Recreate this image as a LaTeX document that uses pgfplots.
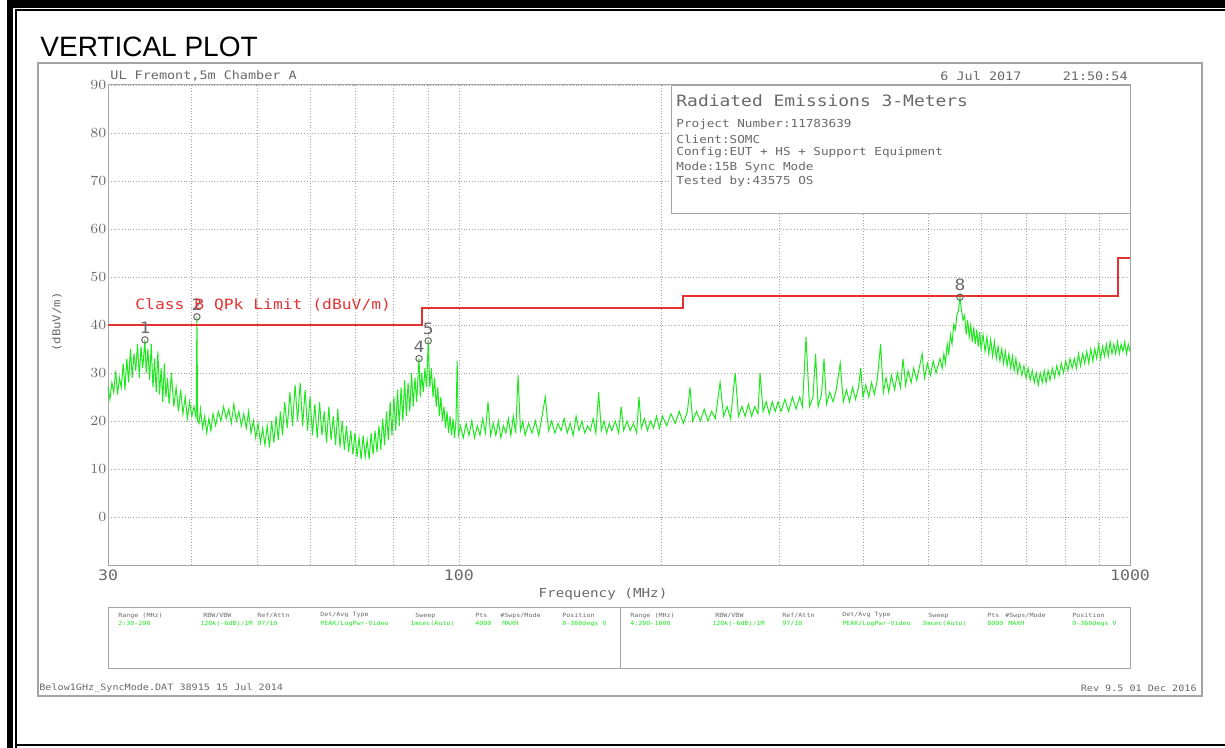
\documentclass[border=0pt]{standalone}
\usepackage{fontspec}
\setmainfont{Liberation Sans}
\newfontfamily\plotfont[FakeStretch=1.15]{DejaVu Sans Mono}
\usepackage{pgfplots}
\pgfplotsset{compat=1.18}
\definecolor{trace}{RGB}{30,232,30}
\definecolor{limit}{RGB}{228,50,50}
\definecolor{ink}{RGB}{105,105,105}
\definecolor{frame}{RGB}{165,165,165}
\newcommand\pf[1]{\plotfont\fontsize{#1}{#1}\selectfont}

\begin{document}
\begin{tikzpicture}[x=0.5pt,y=-0.5pt]
\path[use as bounding box] (0,0) rectangle (1225,748);
% page border (double rule)
\fill[black] (7,0) rectangle (1225,8);
\fill[black] (7,0) rectangle (13,748);
\draw[black, line width=1pt] (16,748) -- (16,10.5) -- (1225,10.5);
\draw[black, line width=1pt] (16,744.5) -- (1225,744.5);
\node[anchor=west, inner sep=0, font=\fontsize{14}{14}\selectfont] at (40,47) {VERTICAL PLOT};
% analyser screen frame
\draw[frame, line width=0.6pt] (38,63) rectangle (1202,696);

\begin{axis}[
    at={(54pt,-282.5pt)}, anchor=south west,
    scale only axis, width=511pt, height=240pt,
    xmode=log, xmin=30, xmax=1000, ymin=-10, ymax=90,
    xtick={30,100,1000}, xticklabels={30,100,1000},
    minor xtick={40,50,60,70,80,90,200,300,400,500,600,700,800,900},
    ytick={0,10,...,90},
    extra y ticks={-10}, extra y tick labels={},
    grid=both,
    major grid style={frame, densely dotted, line width=0.4pt},
    minor grid style={frame, densely dotted, line width=0.4pt},
    axis line style={frame, line width=0.5pt},
    major tick length=0pt, minor tick length=0pt,
    tick label style={font=\pf{7.2}, text=ink},
    yticklabel style={inner sep=0.6pt},
    xticklabel style={inner sep=0pt, yshift=-2pt},
    clip=false,
]
% measured trace, peak detector
\addplot[trace, line width=0.5pt] coordinates {
(30.0,27) (30.2,24.5) (30.4,28) (30.6,26) (30.8,30.5) (31.0,25.5) (31.2,29) (31.4,27)
(31.6,32) (31.8,26.5) (32.0,33) (32.2,28) (32.4,35) (32.6,29) (32.8,34) (33.0,30.5)
(33.2,36) (33.4,29) (33.6,35.5) (33.8,31) (34.05,36.9) (34.2,30) (34.4,35) (34.6,28.5)
(34.8,36) (35.0,27) (35.2,33) (35.4,26) (35.6,34.5) (35.8,25.5) (36.0,31) (36.2,24)
(36.4,32) (36.6,25) (36.8,29) (37.0,23.5) (37.3,30) (37.6,23) (37.9,27) (38.2,22)
(38.5,26.5) (38.8,21.5) (39.1,25) (39.4,20.5) (39.7,24) (40.0,21) (40.3,23) (40.6,20.5)
(40.7,41.7) (40.8,20) (41.0,19.5) (41.2,22.5) (41.5,18.5) (41.8,21) (42.1,17.5) (42.4,20.5)
(42.7,18) (43.0,21.5) (43.4,19) (43.8,22) (44.2,20) (44.6,23) (45.0,20.5) (45.4,22.5)
(45.8,19.5) (46.2,23.5) (46.6,20) (47.0,22) (47.4,19) (47.8,21.5) (48.2,18.5) (48.6,22)
(49.0,17.5) (49.4,20) (49.8,16.5) (50.2,19.5) (50.6,15.5) (51.0,18.5) (51.4,15) (51.8,19)
(52.2,14.5) (52.6,20) (53.0,15.5) (53.4,21) (53.8,16) (54.2,22) (54.6,17) (55.0,24)
(55.5,18.5) (56.0,26) (56.5,19) (57.0,27.5) (57.5,20) (58.0,28) (58.5,19) (59.0,26.5)
(59.5,18) (60.0,25) (60.5,17) (61.0,23.5) (61.5,16.5) (62.0,24) (62.5,17) (63.0,22)
(63.5,15.5) (64.0,23) (64.5,16) (65.0,21) (65.5,15) (66.0,22.5) (66.5,14.5) (67.0,20)
(67.5,14) (68.0,19) (68.5,13.5) (69.0,18) (69.5,13) (70.0,17.5) (70.5,12.5) (71.0,16.5)
(71.5,12) (72.0,17) (72.5,12.5) (73.0,16) (73.5,12) (74.0,17.5) (74.5,13) (75.0,18)
(75.5,13.5) (76.0,19) (76.5,14) (77.0,20.5) (77.5,15) (78.0,22) (78.5,16) (79.0,24)
(79.5,17) (80.0,25) (80.5,18) (81.0,26.5) (81.5,19) (82.0,27) (82.5,20) (83.0,28.5)
(83.5,21) (84.0,28) (84.5,22) (85.0,30) (85.5,23) (86.0,29) (86.5,24) (87.2,33)
(87.6,25) (88.0,30) (88.5,26) (89.0,31) (89.5,27) (90.0,36.7) (90.5,27) (91.0,31)
(91.5,25) (92.0,29) (92.5,23) (93.0,27) (93.5,21) (94.0,25) (94.5,20) (95.0,23)
(95.5,18.5) (96.0,22) (96.5,17.5) (97.0,21) (97.5,17) (98.0,20.5) (98.5,16.5) (99.0,20)
(99.4,32.5) (99.8,17) (100.5,19) (101.5,16.5) (102.5,19.5) (103.5,17) (104.5,20) (105.5,16.5)
(106.5,19) (107.5,17) (108.5,20.5) (109.5,17.5) (110.5,24) (111.5,17) (112.5,19.5) (113.5,17)
(114.5,20) (115.5,16.5) (116.5,19) (117.5,17.5) (118.5,20.5) (119.5,17) (120.5,21) (121.5,17.5)
(122.5,29.6) (123.5,18) (124.5,20) (125.5,17) (127,19.5) (128.5,17.5) (130,20) (131.5,17)
(133,21) (134.5,25) (136,18) (137.5,20) (139,17.5) (140.5,19.5) (142,18) (143.5,20.5)
(145,17.5) (146.5,19.5) (148,17) (149.5,21) (151,18) (152.5,20) (154,17.5) (155.5,19)
(157,18) (158.5,20.5) (160,17.5) (161.5,26) (163,18) (164.5,20) (166,17.5) (167.5,19.5)
(169,18) (171,20) (173,17.5) (174.5,23) (176,18) (178,20) (180,18) (182,19.5)
(184,17.5) (185.5,25) (187,18.5) (189,20.5) (191,18) (193,20) (195,18.5) (197,21)
(199,18.5) (201,21) (204,19) (207,21.5) (210,19.5) (213,22) (216,19.5) (219,22)
(221,27) (223,20) (226,22) (229,20) (232,22.5) (235,20) (238,22) (241,20.5)
(245,28) (248,21) (251,23) (254,20.5) (258,30) (261,21) (264,23) (267,21)
(270,23.5) (273,21) (276,23) (279,21.5) (281,30) (284,22) (287,24) (290,21.5)
(293,24) (296,22) (299,24) (302,22) (306,24.5) (310,22) (314,25) (318,22.5)
(322,25) (325,23) (329,37.5) (333,23) (337,25) (340,34) (343,23) (347,25.5)
(350,33) (353,23.5) (357,26) (361,24) (365,26.5) (370,32) (374,24) (378,26.5)
(382,24) (386,27) (390,24.5) (394,27) (397,31) (400,25) (404,27.5) (408,25)
(412,28) (416,25.5) (420,28.5) (425,36) (429,26) (433,29) (437,26) (441,29.5)
(446,26.5) (450,30) (455,27) (459,33) (463,27.5) (467,30.5) (472,28) (476,31)
(481,28.5) (486,31.5) (490,34) (494,29) (499,32) (504,29.5) (509,32.5) (514,30)
(521,33) (525,31) (528,34) (531,32) (534,36) (537,34) (540,38) (543,36)
(546,40) (549,39) (552,42) (555,43) (558,45.8) (561,43) (564,41) (567,42)
(570,38) (573,41) (576,37.5) (579,40) (582,36.5) (585,39.5) (588,36) (591,39)
(594,35.5) (597,38.5) (600,35) (604,38) (608,34.5) (612,37.5) (616,34) (620,37)
(624,33.5) (628,36.5) (632,33) (636,35.5) (640,32.5) (644,35) (648,32) (652,34.5)
(656,31.5) (660,34) (664,31) (668,33.5) (672,30.5) (676,33) (680,30) (685,32)
(690,29.5) (695,31.5) (700,29) (705,31) (710,28.5) (715,30.5) (720,28) (725,30)
(730,27.5) (735,30) (740,28) (745,30.5) (750,28) (755,30.5) (760,28.5) (766,31)
(772,29) (778,31.5) (784,29.5) (790,32) (796,30) (802,32.5) (808,30.5) (814,33)
(820,31) (826,33) (832,31) (838,34) (844,31.5) (850,34) (856,32) (862,34.5)
(868,32) (874,35) (880,32.5) (886,35) (892,33) (898,36) (904,33) (910,35.5)
(916,33.5) (922,36) (928,33.5) (934,36.5) (940,34) (946,36) (952,34) (958,36.5)
(964,34) (970,36) (976,34.5) (982,36.5) (988,34) (994,36) (1000,34.5)
};
% Class B quasi-peak limit
\addplot[limit, line width=1pt] coordinates {
(30,40) (88,40) (88,43.5) (216,43.5) (216,46) (960,46) (960,54) (1000,54)
};
% marker points
\addplot[only marks, mark=o, mark size=1.6pt, mark options={draw=ink, line width=0.5pt},
    point meta=explicit symbolic, nodes near coords,
    nodes near coords style={font=\pf{7.8}, text=ink, anchor=center, yshift=6pt}]
coordinates {(34.05,36.9)[1] (40.7,41.7)[2] (87.2,33)[4] (90,36.7)[5] (558,45.8)[8]};
\end{axis}

% header line of the screen
\node[anchor=west, inner sep=0, font=\pf{5.85}, text=ink] at (110,76) {UL Fremont,5m Chamber A};
\node[anchor=west, inner sep=0, font=\pf{5.85}, text=ink] at (940,76) {6 Jul 2017};
\node[anchor=east, inner sep=0, font=\pf{5.85}, text=ink] at (1128,76) {21:50:54};
% limit label
\node[anchor=west, inner sep=0, font=\pf{7.1}, text=limit] at (135,305) {Class B QPk Limit (dBuV/m)};
% axis titles
\node[rotate=90, inner sep=0, font=\pf{5.4}, text=ink] at (57,322) {(dBuV/m)};
\node[inner sep=0, font=\pf{6.2}, text=ink] at (603,594) {Frequency (MHz)};

% info box
\draw[frame, fill=white, line width=0.5pt] (671,86) rectangle (1130,214);
\node[anchor=west, inner sep=0, font=\pf{7.8}, text=ink] at (676,101) {Radiated Emissions 3-Meters};
\foreach \yy/\tt in {124/{Project Number:11783639}, 139/{Client:SOMC},
    153/{Config:EUT + HS + Support Equipment}, 167/{Mode:15B Sync Mode},
    181/{Tested by:43575 OS}}
  \node[anchor=west, inner sep=0, font=\pf{5.5}, text=ink] at (676,\yy) {\tt};

% sweep settings table
\draw[frame, line width=0.5pt] (108,607) rectangle (1130,668);
\draw[frame, line width=0.5pt] (620,607) -- (620,668);
\foreach \xx/\tt in {118/{Range (MHz)}, 203/{RBW/VBW}, 257/{Ref/Attn}, 320/{Det/Avg Type},
    415/{Sweep}, 475/{Pts}, 500/{\#Swps/Mode}, 562/{Position},
    630/{Range (MHz)}, 715/{RBW/VBW}, 782/{Ref/Attn}, 842/{Det/Avg Type},
    928/{Sweep}, 987/{Pts}, 1005/{\#Swps/Mode}, 1072/{Position}}
  \node[anchor=west, inner sep=0, font=\pf{2.9}, text=ink] at (\xx,615.5) {\tt};
\foreach \xx/\tt in {118/{2:30-200}, 200/{120k(-6dB)/1M}, 257/{97/10}, 320/{PEAK/LogPwr-Video},
    410/{1msec(Auto)}, 475/{4000}, 502/{MAXH}, 562/{0-360degs V},
    630/{4:200-1000}, 712/{120k(-6dB)/1M}, 782/{97/10}, 842/{PEAK/LogPwr-Video},
    922/{3msec(Auto)}, 987/{8000}, 1008/{MAXH}, 1072/{0-360degs V}}
  \node[anchor=west, inner sep=0, font=\pf{2.9}, text=trace] at (\xx,623.5) {\tt};

% footer
\node[anchor=west, inner sep=0, font=\pf{4.4}, text=ink] at (39,688) {Below1GHz\_SyncMode.DAT 38915 15 Jul 2014};
\node[anchor=east, inner sep=0, font=\pf{4.4}, text=ink] at (1197,688) {Rev 9.5 01 Dec 2016};
\end{tikzpicture}
\end{document}
